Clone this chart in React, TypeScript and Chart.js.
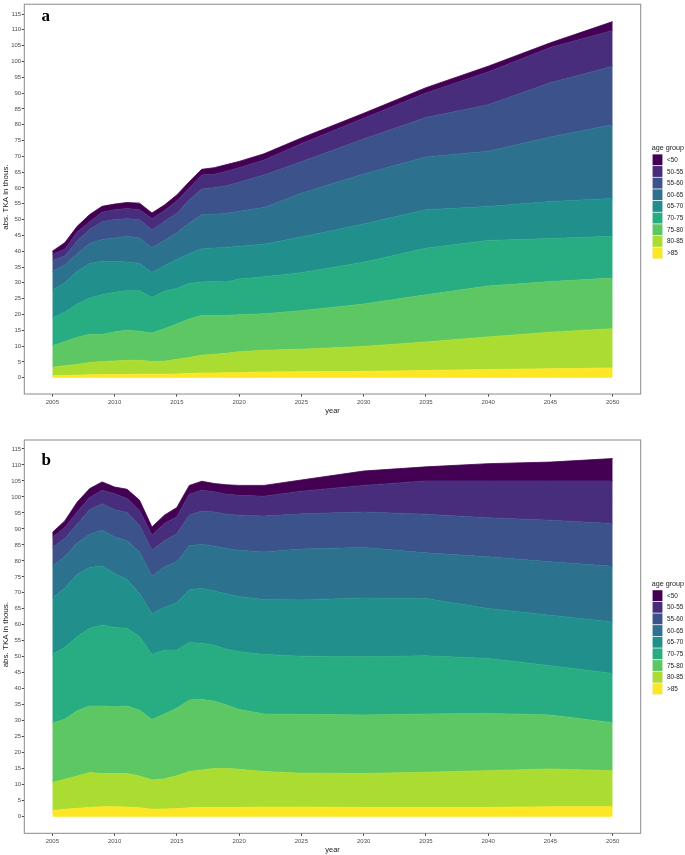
import React, { useEffect, useRef } from "react";
import { Chart, registerables } from "chart.js";

Chart.register(...registerables);

// ---------- data ----------
const years = [2005, 2006, 2007, 2008, 2009, 2010, 2011, 2012, 2013, 2014, 2015, 2016, 2017, 2018, 2019, 2020, 2022, 2025, 2030, 2035, 2040, 2045, 2050];
const xTicks = [2005, 2010, 2015, 2020, 2025, 2030, 2035, 2040, 2045, 2050];
const yTicks = [0, 5, 10, 15, 20, 25, 30, 35, 40, 45, 50, 55, 60, 65, 70, 75, 80, 85, 90, 95, 100, 105, 110, 115];
const ageGroups = ["<50", "50-55", "55-60", "60-65", "65-70", "70-75", "75-80", "80-85", ">85"];
const groupColors = ["#440154", "#472D7B", "#3B528B", "#2C728E", "#21908C", "#27AD81", "#5DC863", "#AADC32", "#FDE725"];

// panel a (thousands)
const aLt50 = [1.0, 2.1, 1.8, 2.3, 1.9, 1.8, 1.9, 2.1, 1.8, 1.8, 1.9, 2.1, 1.8, 2.1, 2.1, 2.0, 2.0, 1.8, 1.6, 1.7, 1.8, 1.5, 2.8];
const a50to55 = [1.9, 2.1, 2.9, 2.4, 3.0, 3.1, 3.2, 3.1, 3.6, 3.4, 3.9, 3.7, 4.4, 4.2, 4.6, 4.6, 4.7, 5.7, 6.5, 7.7, 10.4, 11.1, 11.3];
const a55to60 = [3.5, 2.9, 4.0, 4.5, 5.6, 5.8, 5.6, 5.8, 5.6, 6.0, 6.2, 7.3, 8.2, 8.4, 8.7, 9.2, 10.3, 10.0, 11.1, 12.5, 14.7, 17.2, 18.5];
const a60to65 = [5.9, 5.6, 5.6, 6.3, 6.9, 7.4, 8.1, 8.1, 7.8, 8.0, 8.4, 9.7, 10.7, 10.7, 10.8, 11.0, 11.6, 13.8, 15.8, 16.7, 17.5, 20.4, 23.3];
const a65to70 = [8.8, 9.3, 10.3, 10.9, 10.6, 9.8, 9.1, 8.6, 7.9, 8.1, 9.2, 9.4, 10.5, 10.6, 10.9, 10.4, 10.3, 11.3, 12.1, 12.2, 10.7, 11.7, 12.0];
const a70to75 = [8.8, 9.3, 10.5, 11.5, 12.5, 12.5, 12.5, 12.8, 11.3, 11.8, 11.2, 11.2, 10.6, 10.7, 10.6, 11.3, 11.7, 12.0, 13.2, 14.7, 14.4, 13.6, 13.2];
const a75to80 = [6.8, 7.6, 8.6, 8.9, 8.6, 9.2, 9.5, 9.2, 9.0, 10.3, 11.2, 12.2, 12.6, 12.3, 12.0, 11.7, 11.5, 12.2, 13.4, 14.9, 16.1, 16.0, 16.0];
const a80to85 = [2.6, 3.1, 3.4, 3.9, 4.1, 4.3, 4.5, 4.4, 4.0, 4.1, 4.6, 5.1, 5.6, 5.9, 6.1, 6.6, 6.9, 7.1, 7.9, 9.0, 10.3, 11.6, 12.4];
const aGt85 = [0.7, 0.7, 0.8, 0.9, 1.0, 1.0, 1.0, 1.1, 1.1, 1.1, 1.2, 1.3, 1.5, 1.5, 1.6, 1.6, 1.8, 1.9, 2.0, 2.3, 2.6, 2.8, 3.1];

// panel b (thousands)
const bLt50 = [1.6, 2.1, 3.1, 2.8, 2.6, 2.1, 2.9, 3.2, 2.6, 2.6, 2.9, 2.8, 2.8, 2.6, 3.0, 3.1, 3.4, 3.5, 4.5, 4.4, 5.4, 5.9, 7.0];
const b50to55 = [3.1, 3.4, 3.8, 3.8, 4.2, 5.0, 4.4, 4.7, 4.7, 5.4, 5.3, 6.5, 6.5, 6.3, 6.2, 6.2, 6.2, 7.1, 8.3, 10.4, 11.5, 12.3, 13.3];
const b55to60 = [5.8, 5.7, 5.9, 7.7, 8.3, 8.5, 8.8, 8.3, 8.1, 8.2, 8.8, 9.6, 10.4, 10.7, 10.7, 11.0, 11.2, 11.0, 11.1, 12.1, 12.2, 13.0, 13.4];
const b60to65 = [9.9, 9.9, 9.8, 10.4, 11.2, 11.5, 12.1, 13.0, 11.7, 12.7, 12.8, 13.7, 13.8, 14.0, 14.3, 14.5, 14.9, 15.9, 15.8, 14.3, 16.2, 16.7, 17.4];
const b65to70 = [17.8, 18.5, 19.5, 19.0, 18.5, 16.8, 15.3, 13.5, 12.8, 13.3, 14.8, 16.6, 17.2, 17.0, 17.3, 17.2, 17.2, 17.6, 18.4, 17.9, 15.6, 15.8, 16.1];
const b70to75 = [21.5, 22.4, 23.2, 24.3, 25.3, 24.8, 24.3, 23.0, 20.3, 20.0, 18.2, 17.9, 17.5, 17.5, 17.4, 18.1, 18.6, 18.2, 18.2, 18.2, 17.2, 15.4, 15.4];
const b75to80 = [18.5, 18.8, 20.4, 20.8, 21.1, 20.9, 21.1, 20.6, 18.9, 20.3, 21.1, 22.4, 22.1, 21.0, 19.8, 18.7, 18.0, 18.4, 18.3, 18.2, 17.9, 16.9, 15.0];
const b80to85 = [8.8, 9.4, 10.1, 10.9, 10.4, 10.4, 10.5, 9.9, 9.2, 9.4, 10.3, 11.3, 11.7, 12.2, 12.2, 11.9, 11.1, 10.6, 10.6, 11.0, 11.5, 11.8, 11.3];
const bGt85 = [1.9, 2.3, 2.6, 2.9, 3.1, 3.1, 3.0, 2.8, 2.3, 2.4, 2.5, 2.8, 2.9, 2.9, 2.9, 2.9, 3.0, 3.0, 2.9, 2.9, 2.9, 3.1, 3.1];

const panelA = [aLt50, a50to55, a55to60, a60to65, a65to70, a70to75, a75to80, a80to85, aGt85];
const panelB = [bLt50, b50to55, b55to60, b60to65, b65to70, b70to75, b75to80, b80to85, bGt85];

const SANS = "'Liberation Sans', Arial, sans-serif";

function makeConfig(series: number[][], label: string, topPad: number, xAxisH: number, yMin: number, yMax: number, labelBaseline: number) {
  // bottom band (>85) first so stacking goes upward
  const order = [8, 7, 6, 5, 4, 3, 2, 1, 0];
  const datasets = order.map((gi, k) => ({
    label: ageGroups[gi],
    data: years.map((x, i) => ({ x, y: series[gi][i] })),
    backgroundColor: groupColors[gi],
    borderColor: groupColors[gi],
    borderWidth: 0.8,
    pointRadius: 0,
    tension: 0,
    fill: k === 0 ? "origin" : "-1",
  }));

  const overlay = {
    id: "overlay" + label,
    afterDraw(chart: any) {
      const ctx = chart.ctx;
      const ca = chart.chartArea;
      ctx.save();
      // panel frame
      ctx.strokeStyle = "#8a8a8a";
      ctx.lineWidth = 1;
      ctx.strokeRect(ca.left, ca.top, ca.right - ca.left, ca.bottom - ca.top);
      // panel label
      ctx.fillStyle = "#000";
      ctx.font = "bold 17px 'Liberation Serif', 'Times New Roman', serif";
      ctx.textAlign = "left";
      ctx.textBaseline = "alphabetic";
      ctx.fillText(label, 41.5, labelBaseline);
      // x title
      ctx.font = `7.5px ${SANS}`;
      ctx.fillStyle = "#222";
      ctx.textAlign = "center";
      ctx.textBaseline = "middle";
      ctx.fillText("year", (ca.left + ca.right) / 2, ca.bottom + 16.7);
      // y title
      ctx.save();
      ctx.translate(5.5, (ca.top + ca.bottom) / 2 - 2);
      ctx.rotate(-Math.PI / 2);
      ctx.font = `8px ${SANS}`;
      ctx.fillText("abs. TKA in thous.", 0, 0);
      ctx.restore();
      // legend
      const lx = 652.3;
      const titleY = ca.top + 143.7;
      ctx.textAlign = "left";
      ctx.font = `7.2px ${SANS}`;
      ctx.fillStyle = "#222";
      ctx.fillText("age group", 651.7, titleY);
      const pitch = 11.65;
      const keysTop = ca.top + 149.8;
      ageGroups.forEach((g, i) => {
        const y = keysTop + i * pitch;
        ctx.fillStyle = "#f2f2f2";
        ctx.fillRect(lx, y, 10.4, pitch);
        ctx.fillStyle = groupColors[i];
        ctx.fillRect(lx + 0.3, y + 0.4, 9.8, pitch - 0.8);
        ctx.fillStyle = "#222";
        ctx.font = `6.4px ${SANS}`;
        ctx.fillText(g, 667, y + pitch / 2 + 0.3);
      });
      ctx.restore();
    },
  };

  return {
    type: "line" as const,
    data: { datasets },
    options: {
      animation: false,
      responsive: false,
      layout: { padding: { top: topPad, right: 44.3, left: 0, bottom: 0 } },
      plugins: { legend: { display: false }, tooltip: { enabled: false } },
      scales: {
        x: {
          type: "linear",
          min: 2002.75,
          max: 2052.25,
          afterBuildTicks: (s: any) => {
            s.ticks = xTicks.map((v) => ({ value: v }));
          },
          afterFit: (s: any) => {
            s.height = xAxisH;
          },
          grid: { drawOnChartArea: false, tickLength: 2.5, color: "#444", tickColor: "#444" },
          border: { display: false },
          ticks: { font: { family: SANS, size: 6 }, color: "#4d4d4d", padding: 1.8, maxRotation: 0, autoSkip: false, callback: (v: any) => String(v) },
        },
        y: {
          type: "linear",
          stacked: true,
          min: yMin,
          max: yMax,
          afterBuildTicks: (s: any) => {
            s.ticks = yTicks.map((v) => ({ value: v }));
          },
          afterFit: (s: any) => {
            s.width = 24.3;
          },
          grid: { drawOnChartArea: false, tickLength: 2.5, color: "#444", tickColor: "#444" },
          border: { display: false },
          ticks: { font: { family: SANS, size: 6 }, color: "#4d4d4d", padding: 0.6, autoSkip: false, callback: (v: any) => String(v) },
        },
      },
    },
    plugins: [overlay],
  };
}

function Panel({ series, label, height, topPad, xAxisH, yMin, yMax, labelBaseline, top }: any) {
  const ref = useRef<HTMLCanvasElement | null>(null);
  useEffect(() => {
    if (!ref.current) return;
    const chart = new Chart(ref.current, makeConfig(series, label, topPad, xAxisH, yMin, yMax, labelBaseline) as any);
    return () => chart.destroy();
  }, []);
  return (
    <canvas
      ref={ref}
      width={685}
      height={height}
      style={{ position: "absolute", left: 0, top, width: 685, height, display: "block" }}
    />
  );
}

export default function App() {
  return (
    <div style={{ position: "absolute", left: 0, top: 0, width: 685, height: 855, background: "#fff" }}>
      <Panel series={panelA} label="a" height={420} top={0} topPad={1} xAxisH={26} yMin={-5.15} yMax={118.1} labelBaseline={20.7} />
      <Panel series={panelB} label="b" height={435} top={420} topPad={20} xAxisH={21.7} yMin={-5.2} yMax={117.8} labelBaseline={45} />
    </div>
  );
}
